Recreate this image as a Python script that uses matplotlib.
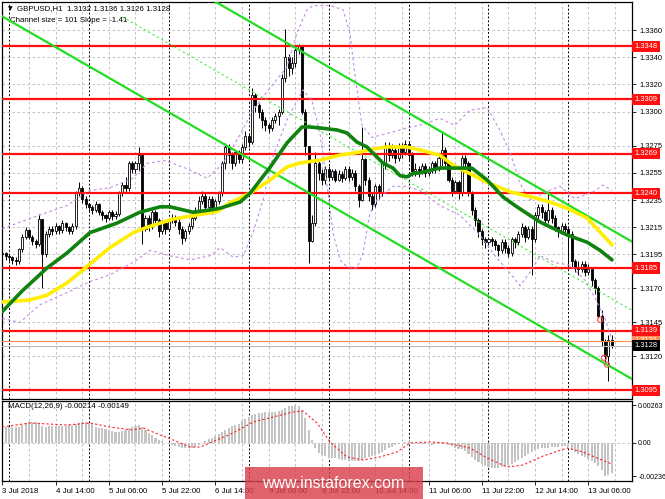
import matplotlib
matplotlib.use('Agg')
import matplotlib.pyplot as plt
import matplotlib.transforms as mtransforms
import numpy as np

# GBPUSD H1 bars, 3 Jul 22:00 .. 13 Jul 13:00, prices in pips above 1.3000
first_open_pips = 195
close_pips = [
    196, 194, 193, 191, 190, 199, 208, 213, 208, 205, 203, 221,
    195, 210, 214, 212, 216, 213, 218, 215, 212, 216, 240, 244,
    236, 232, 230, 228, 232, 226, 224, 222, 226, 223, 225, 240,
    246, 244, 262, 258, 262, 268, 214, 222, 216, 226, 220, 212,
    218, 214, 220, 222, 219, 214, 207, 212, 216, 222, 228, 234,
    238, 230, 236, 228, 234, 240, 262, 274, 268, 262, 270, 265,
    274, 282, 278, 312, 305, 300, 294, 290, 288, 294, 297, 300,
    325, 340, 332, 336, 345, 348, 300, 275, 205, 218, 262, 255,
    250, 258, 252, 256, 250, 254, 251, 258, 252, 255, 245, 235,
    265, 250, 238, 232, 245, 240, 262, 275, 268, 272, 266, 275,
    270, 276, 268, 256, 258, 256, 260, 255, 258, 262, 258, 266,
    272, 262, 250, 242, 248, 240, 266, 262, 240, 228, 220, 212,
    206, 204, 206, 205, 202, 198, 204, 200, 196, 206, 204, 210,
    215, 208, 214, 206, 224, 230, 226, 220, 228, 222, 215, 212,
    216, 214, 210, 190, 186, 184, 188, 182, 184, 176, 170, 150,
    131, 120, 132, 128,
]
high_pips = [
    198, 197, 195, 194, 193, 200, 210, 215, 214, 209, 206, 225,
    221, 212, 216, 216, 218, 217, 220, 219, 216, 218, 242, 248,
    245, 238, 233, 231, 234, 233, 228, 225, 228, 228, 227, 242,
    248, 252, 264, 264, 264, 274, 268, 224, 224, 228, 228, 222,
    220, 220, 222, 225, 224, 222, 216, 214, 218, 224, 230, 238,
    242, 240, 238, 238, 236, 242, 264, 277, 276, 270, 272, 272,
    276, 286, 284, 317, 314, 306, 302, 296, 292, 296, 299, 302,
    328, 361, 342, 340, 348, 350, 349, 302, 275, 224, 270, 264,
    258, 260, 260, 258, 258, 257, 256, 260, 260, 258, 257, 247,
    289, 266, 252, 240, 247, 247, 264, 278, 278, 276, 274, 277,
    277, 279, 278, 270, 262, 260, 262, 262, 260, 264, 264, 268,
    284, 274, 264, 252, 250, 250, 268, 268, 264, 242, 230, 222,
    214, 208, 208, 208, 206, 203, 206, 206, 202, 208, 208, 212,
    218, 217, 216, 216, 226, 232, 232, 228, 242, 230, 224, 216,
    218, 218, 216, 212, 192, 190, 190, 190, 188, 186, 178, 172,
    154, 133, 136, 136,
]
low_pips = [
    193, 191, 190, 188, 187, 188, 197, 206, 206, 202, 200, 201,
    170, 193, 208, 209, 210, 210, 211, 212, 210, 210, 214, 238,
    233, 229, 227, 225, 226, 224, 220, 219, 220, 220, 221, 223,
    238, 240, 242, 255, 255, 256, 203, 212, 212, 214, 217, 208,
    210, 210, 212, 218, 216, 210, 203, 205, 210, 214, 220, 226,
    232, 226, 227, 225, 226, 232, 238, 258, 262, 258, 260, 262,
    262, 272, 274, 276, 300, 295, 288, 286, 284, 286, 292, 290,
    298, 322, 326, 328, 333, 342, 298, 268, 189, 204, 216, 250,
    246, 247, 250, 250, 248, 249, 248, 250, 249, 250, 242, 230,
    234, 246, 234, 228, 230, 236, 238, 258, 264, 266, 262, 264,
    266, 268, 264, 253, 253, 252, 254, 252, 253, 255, 255, 256,
    260, 258, 248, 238, 240, 236, 238, 257, 238, 224, 216, 208,
    202, 200, 202, 201, 198, 194, 196, 196, 193, 194, 200, 202,
    208, 204, 206, 180, 204, 220, 222, 216, 218, 218, 212, 208,
    210, 210, 186, 186, 182, 180, 182, 179, 180, 172, 166, 148,
    128, 116, 102, 126,
]

# moving averages (bar index, pips)
ma_green_idx = [0, 5.9, 13.4, 19.4, 26.3, 34.4, 41.3, 47.4, 50.4, 57.3, 63.3, 65.4,
                71.4, 74.4, 80.4, 85.5, 90, 92.4, 95.4, 100.5, 103.5, 106.5, 109.5,
                112.5, 114.3, 117.3, 119.4, 121.5, 123.3, 125.4, 131.4, 141, 145.6,
                150.4, 154.6, 161.5, 169.6, 175.6, 179.5, 183.1]
ma_green = [153, 168, 185, 196, 211, 218, 226, 230, 230, 226, 228, 229,
            233.5, 240, 259, 277, 288.7, 288.7, 288, 286.5, 284.3, 277.6, 274,
            266.6, 262.2, 258.5, 253, 252, 254.5, 255, 258.5, 258.5, 249.7,
            237.2, 229.9, 218.8, 209.3, 204, 198, 191]
ma_yellow_idx = [0, 8.3, 13.4, 19.4, 25.4, 32.3, 39.3, 43.5, 51.3, 58.5, 64.5, 68.4,
                 74.4, 80.4, 85.5, 89.3, 95.4, 101.4, 107.4, 111.3, 115.5, 121.5,
                 125.4, 131.4, 135.3, 139.5, 145.6, 152.5, 159.4, 164.5, 169.6,
                 175.6, 179.5, 183.1]
ma_yellow = [160, 161.5, 165, 174, 186, 200, 211, 215, 221, 224, 226.5, 233,
             240, 249.7, 259.3, 262.2, 264.4, 268, 270.3, 272.5, 274, 274,
             271.8, 268, 260.7, 255.6, 248, 241, 237, 233.5, 229,
             221.8, 211.5, 202]

# bollinger envelope
bb_up_idx = [0, 11.3, 19.4, 26.3, 32.3, 39.2, 43.5, 48.9, 55.5, 61.5, 66, 71.4, 75.3,
             78.3, 85.5, 88.5, 91.5, 93.3, 98.4, 102.3, 104.4, 105.9, 108, 111,
             117.3, 121.5, 125.4, 131.4, 135.9, 140.4, 145.6, 149.5, 152.5, 155.5,
             158.5, 163, 167.5, 172, 177.4, 180.4, 183.1]
bb_up = [214, 224, 231, 242, 244, 251, 262, 264, 258, 251, 261, 283, 301,
         311, 333, 358, 375, 378, 378, 375, 358, 327, 290, 281,
         285, 288, 290, 295, 290, 301, 303, 286, 270, 247,
         235, 241, 245, 236, 241, 246, 242]
bb_lo_idx = [0, 5.3, 11.3, 19.4, 26.3, 32.3, 39.2, 44.4, 50.4, 56.4, 62.4, 65.4,
             69.3, 72.3, 75.3, 78.3, 81.3, 85.5, 90.3, 93, 95.4, 97.5, 99.3, 101.4,
             103.5, 106.5, 108.3, 110.4, 112.5, 117.3, 121.5, 125.4, 131.4, 137.4,
             143.5, 148, 152.5, 155.5, 158.5, 161.5, 166, 170.5, 175, 178, 181.1, 183.1]
bb_lo = [148, 145, 158, 167, 175, 180, 189, 198, 194, 191, 194, 200,
         193, 194, 211, 235, 267, 294, 316, 308, 284, 247, 211, 191,
         186, 185, 196, 225, 235, 245, 245, 242, 231, 224,
         209, 194, 181, 172, 182, 194, 189, 187, 176, 163, 147, 132]

# linear regression channel (bar index, pips)
chan_idx = [0, 189.1]
chan_top = [471, 204.4]
chan_bot = [370, 103.4]
mid_start_idx = 36

levels = [1.3348, 1.3309, 1.3269, 1.3240, 1.3185, 1.3139, 1.3095]
bid, ask = 1.3128, 1.3131
marks_idx = [179.5, 180.7, 181.6]
marks_pips = [147, 119, 114]

# MACD(12,26,9), units of 1e-5
macd = [
    108, 110, 112, 112, 110, 112, 125, 138, 145, 146, 144, 138,
    118, 112, 115, 118, 117, 116, 118, 120, 122, 124, 130, 140,
    145, 145, 140, 128, 112, 104, 100, 96, 88, 80, 76, 78,
    84, 90, 100, 112, 120, 124, 108, 90, 70, 52, 36, 22,
    12, 0, -10, -18, -26, -32, -36, -38, -38, -36, -30, -16,
    0, 12, 24, 32, 48, 62, 76, 92, 106, 118, 126, 134,
    150, 166, 182, 194, 200, 206, 210, 212, 214, 216, 218, 222,
    230, 246, 254, 258, 263, 258, 230, 170, 90, 20, -40, -70,
    -88, -96, -104, -108, -110, -112, -118, -122, -126, -128, -128, -126,
    -118, -110, -100, -92, -86, -76, -62, -50, -40, -28, -16, -6,
    0, 4, 10, 4, -4, -8, -10, -12, -12, -14, -12, -10,
    -6, -8, -14, -24, -36, -44, -46, -58, -76, -98, -118, -136,
    -148, -160, -168, -174, -176, -174, -170, -164, -156, -146, -132, -118,
    -104, -90, -76, -62, -52, -44, -40, -38, -36, -32, -30, -28,
    -24, -20, -28, -48, -66, -80, -92, -102, -114, -126, -142, -160,
    -188, -236, -226, -214,
]
sig_idx = [0, 8.3, 19.4, 26.3, 32.3, 39.2, 42.3, 47.4, 51.3, 56.4, 59.4, 64.5, 69.3,
           75.3, 81.3, 87.3, 90.3, 94.5, 98.4, 103.5, 108.3, 113.4, 118.5, 122.4,
           128.4, 133.5, 140.4, 145.6, 151.6, 156.4, 162.4, 169.6, 174.4, 178.6, 183]
sig = [110, 138, 124, 138, 110, 89, 103, 54, 19, -30, -30, 19, 68,
       145, 180, 215, 222, 138, 5, -100, -121, -100, -65, -2,
       5, -2, -37, -107, -170, -156, -93, -37, -65, -107, -149]

price_ticks = [1.3360, 1.3340, 1.3320, 1.3300, 1.3275, 1.3255, 1.3235, 1.3215,
               1.3195, 1.3170, 1.3145, 1.3120]
macd_ticks = [0.00263, 0.0, -0.00236]
macd_tick_labels = ['0.00263', '0.00', '-0.00236']
time_idx = [0, 16, 32, 48, 64, 80, 96, 112, 128, 144, 160, 176]
time_labels = ['3 Jul 2018', '4 Jul 14:00', '5 Jul 06:00', '5 Jul 22:00',
               '6 Jul 14:00', '9 Jul 06:00', '9 Jul 22:00', '10 Jul 14:00',
               '11 Jul 06:00', '11 Jul 22:00', '12 Jul 14:00', '13 Jul 06:00']
day_idx = [2, 26, 50, 74, 98, 122, 146, 170]


def px(pips):
    return 1.3 + np.asarray(pips, dtype=float) / 1e4


W, H = 665, 499
FS = 5.4
plt.rcParams['font.family'] = ['Liberation Sans', 'DejaVu Sans']

fig = plt.figure(figsize=(W / 100, H / 100), dpi=100)
ax = fig.add_axes([2 / W, (H - 399) / H, 630 / W, 397 / H])
axm = fig.add_axes([2 / W, (H - 481) / H, 630 / W, 80 / H])

closes = px(close_pips)
opens = np.concatenate([[px(first_open_pips)], closes[:-1]])
highs = px(high_pips)
lows = px(low_pips)
idx = np.arange(len(closes))
xmax = chan_idx[1]

for a in (ax, axm):
    a.set_xlim(-0.09, xmax)
    a.set_facecolor('white')
    for s in a.spines.values():
        s.set_linewidth(0.9)
        s.set_color('black')
    for g in range(8, int(xmax), 8):
        a.axvline(g, color='#b8b8b8', lw=0.6, ls=(0, (3, 3)), zorder=0)
    for d in day_idx:
        a.axvline(d, color='black', lw=0.7, ls=(0, (2, 2)), zorder=0.5)
    a.yaxis.tick_right()
    a.tick_params(axis='y', direction='out', length=3, width=0.6, pad=2,
                  labelsize=FS, colors='black')

# main price panel
ax.set_ylim(1.30887, 1.33806)
ax.set_yticks(price_ticks)
ax.set_yticklabels(['%.4f' % t for t in price_ticks])
for t in price_ticks:
    ax.axhline(t, color='#b8b8b8', lw=0.6, ls=(0, (3, 3)), zorder=0)
ax.set_xticks([])

ax.vlines(idx, lows, highs, color='black', lw=0.7, zorder=2)
up = closes >= opens
ax.bar(idx[up], (closes - opens)[up], bottom=opens[up], width=0.62,
       facecolor='white', edgecolor='black', lw=0.6, zorder=2.1)
ax.bar(idx[~up], (opens - closes)[~up], bottom=closes[~up], width=0.62,
       facecolor='black', edgecolor='black', lw=0.6, zorder=2.1)

for lv in levels:
    ax.axhline(lv, color='#ff1010', lw=1.6, zorder=3)
ax.axhline(ask, color='#ff8c50', lw=0.8, zorder=3)
ax.axhline(bid, color='#bdbdbd', lw=0.8, zorder=3)

ax.plot(bb_up_idx, px(bb_up), color='#c58ae6', lw=0.8, ls=(0, (2.5, 2.5)), zorder=3)
ax.plot(bb_lo_idx, px(bb_lo), color='#c58ae6', lw=0.8, ls=(0, (2.5, 2.5)), zorder=3)

ax.plot(chan_idx, px(chan_top), color='#22dd22', lw=1.6, zorder=3.5)
ax.plot(chan_idx, px(chan_bot), color='#22dd22', lw=1.6, zorder=3.5)
mid = (np.array(chan_top) + np.array(chan_bot)) / 2
slope = (mid[1] - mid[0]) / (chan_idx[1] - chan_idx[0])
ax.plot([mid_start_idx, chan_idx[1]], px([mid[0] + slope * mid_start_idx, mid[1]]),
        color='#44ee44', lw=0.8, ls=(0, (2, 2.5)), zorder=3.5)

ax.plot(ma_yellow_idx, px(ma_yellow), color='#ffee00', lw=2.6, zorder=4,
        solid_capstyle='round', solid_joinstyle='round')
ax.plot(ma_green_idx, px(ma_green), color='#0f820f', lw=2.6, zorder=4.1,
        solid_capstyle='round', solid_joinstyle='round')

ax.scatter(marks_idx, px(marks_pips), s=14, facecolor='none',
           edgecolor='#ff5050', lw=0.8, zorder=5)

# right-side price labels
tr = mtransforms.blended_transform_factory(ax.transAxes, ax.transData)
for lv in levels:
    ax.text(1.004, lv, '%.4f' % lv, transform=tr, fontsize=FS, color='white',
            va='center', ha='left', zorder=10, clip_on=False,
            bbox=dict(boxstyle='square,pad=0.28', fc='#ff1010', ec='none'))
ax.text(1.004, ask + 0.00004, '%.4f' % ask, transform=tr, fontsize=FS,
        color='white', va='center', ha='left', clip_on=False,
        bbox=dict(boxstyle='square,pad=0.28', fc='#ff8c50', ec='none'))
ax.text(1.004, bid - 0.00002, '%.4f' % bid, transform=tr, fontsize=FS,
        color='white', va='center', ha='left', clip_on=False,
        bbox=dict(boxstyle='square,pad=0.28', fc='black', ec='none'))

ax.text(6 / 630, 1 - 7 / 397, '\u25bc', transform=ax.transAxes, fontsize=FS - 1,
        va='center', ha='left', family='DejaVu Sans')
ax.text(15 / 630, 1 - 7 / 397,
        'GBPUSD,H1  1.3132 1.3136 1.3126 1.3128', transform=ax.transAxes,
        fontsize=FS + 0.3, va='center', ha='left')
ax.text(8 / 630, 1 - 19 / 397, 'Channel size = 101 Slope = -1.41',
        transform=ax.transAxes, fontsize=FS + 0.3, va='center', ha='left')

# MACD panel
axm.set_ylim(-0.00268, 0.00292)
axm.axhline(0, color='#b8b8b8', lw=0.6, ls=(0, (3, 3)), zorder=0)
axm.bar(idx, np.array(macd) / 1e5, width=0.62, color='#c4c4c4', zorder=2)
axm.plot(sig_idx, np.array(sig) / 1e5, color='#ff2020', lw=0.8,
         ls=(0, (2, 2)), zorder=3)
axm.set_yticks(macd_ticks)
axm.set_yticklabels(macd_tick_labels)
axm.tick_params(axis='y', labelsize=FS - 0.4, pad=1.5)
axm.set_xticks(time_idx)
axm.set_xticklabels(time_labels)
axm.tick_params(axis='x', direction='out', length=3, width=0.6, pad=2,
                labelsize=FS + 0.3)
for lab in axm.get_xticklabels():
    lab.set_ha('left')
axm.text(6 / 630, 1 - 6 / 80, 'MACD(12,26,9) -0.00214 -0.00149',
         transform=axm.transAxes, fontsize=FS + 0.3, va='center', ha='left')

# watermark
fig.patches.append(plt.Rectangle((245 / W, 0), 178 / W, 32 / H,
                                 transform=fig.transFigure, facecolor='#d8404c',
                                 alpha=0.82, edgecolor='none', zorder=20))
fig.text(333 / W, 1 - 484 / H, 'www.instaforex.com', fontsize=11.5,
         color='white', ha='center', va='center', zorder=21)

fig.savefig('out.png', dpi=100, facecolor='white')
